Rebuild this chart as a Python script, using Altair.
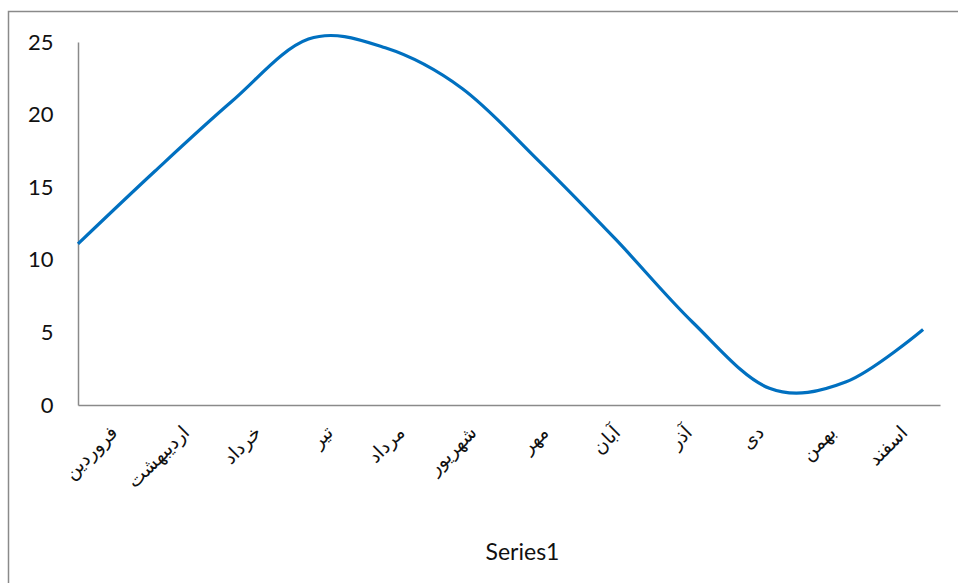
import altair as alt
import pandas as pd

# Persian calendar months and the monthly series
months = ["فروردین", "اردیبهشت", "خرداد", "تیر", "مرداد", "شهریور",
          "مهر", "آبان", "آذر", "دی", "بهمن", "اسفند"]
values = [11.1, 16.1, 20.9, 25.2, 24.6, 21.8, 16.8, 11.4, 5.7, 1.15, 1.6, 5.2]
y_ticks = [0, 5, 10, 15, 20, 25]

df = pd.DataFrame({"idx": list(range(len(months))), "month": months, "value": values})

PLOT_W, PLOT_H = 862, 363
AXIS_GREY = "#8a8a8a"

y_enc = alt.Y(
    "value:Q",
    scale=alt.Scale(domain=[0, 25], nice=False),
    axis=alt.Axis(
        values=y_ticks, ticks=False, grid=False, title=None,
        domainColor=AXIS_GREY, domainWidth=1.5,
        labelFont="Lato", labelFontSize=22, labelColor="#111111",
        labelPadding=25,
    ),
)

# smoothed series line
line = alt.Chart(df).mark_line(
    color="#0070C0", strokeWidth=3.2, interpolate="cardinal"
).encode(
    x=alt.X("idx:Q", scale=alt.Scale(domain=[0, 11.22], nice=False, zero=True), axis=None),
    y=y_enc,
)

# category axis with rotated month labels
cats = alt.Chart(df).mark_point(opacity=0).encode(
    x=alt.X(
        "month:N", sort=None,
        scale=alt.Scale(paddingInner=0, paddingOuter=0),
        axis=alt.Axis(
            orient="bottom", ticks=False, grid=False,
            domainColor=AXIS_GREY, domainWidth=1.5,
            labelAngle=-45, labelAlign="right", labelBaseline="middle",
            labelFont="DejaVu Sans", labelFontSize=19, labelColor="#111111",
            labelPadding=24,
            title="Series1", titleFont="Lato", titleFontSize=23,
            titleFontWeight="normal", titleColor="#111111",
            titleX=444, titleY=136,
        ),
    ),
    y=alt.Y("value:Q"),
)

# outer chart frame (top and left edges fall inside the view)
frame = alt.Chart(alt.Data(values=[{}])).mark_rect(
    fill=None, stroke="#8a8a8a", strokeWidth=1.5
).encode(
    x=alt.value(-69.5), x2=alt.value(960),
    y=alt.value(-30.5), y2=alt.value(620),
)

chart = alt.layer(frame, line, cats).resolve_scale(x="independent").properties(
    width=PLOT_W, height=PLOT_H,
    autosize=alt.AutoSizeParams(type="none"),
    padding={"left": 78, "top": 42, "right": 18, "bottom": 178},
    background="white",
).configure_view(stroke=None, clip=False)

chart.save("out.html", embed_options={"renderer": "svg", "actions": False})
